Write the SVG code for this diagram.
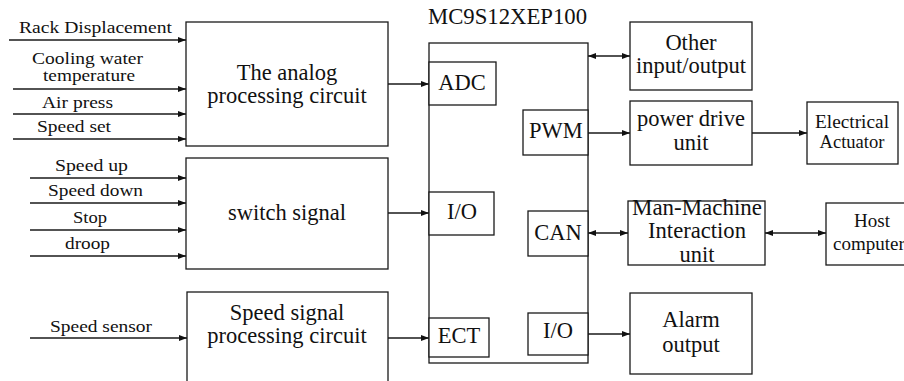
<svg xmlns="http://www.w3.org/2000/svg" width="904" height="381" viewBox="0 0 904 381">
<style>
  .box { fill: #ffffff; stroke: #1a1a1a; stroke-width: 1.3; }
  .t { fill: #111; }
  .big { font-size: 22.5px; text-anchor: middle; }
  .mid { font-size: 19px; text-anchor: middle; }
  .lab { font-size: 16px; }
  .ln { stroke: #1a1a1a; stroke-width: 1.3; fill: none; }
  .arr { marker-end: url(#ah); }
  .bi { marker-start: url(#ahs); marker-end: url(#ah); }
</style>
<defs>
  <marker id="ah" markerUnits="userSpaceOnUse" markerWidth="9" markerHeight="7" refX="8" refY="3" orient="auto">
    <path d="M0,0 L8,3 L0,6 z" fill="#111"/>
  </marker>
  <marker id="ahs" markerUnits="userSpaceOnUse" markerWidth="9" markerHeight="7" refX="0" refY="3" orient="auto">
    <path d="M8,0 L0,3 L8,6 z" fill="#111"/>
  </marker>
</defs>
<rect width="904" height="381" fill="#ffffff"/>
<g font-family="Liberation Serif, DejaVu Serif, serif">
<g id="connectors">
  <line class="ln arr" x1="9" y1="40" x2="186" y2="40"/>
  <line class="ln arr" x1="13" y1="89" x2="186" y2="89"/>
  <line class="ln arr" x1="13" y1="114" x2="186" y2="114"/>
  <line class="ln arr" x1="13" y1="139" x2="186" y2="139"/>
  <line class="ln arr" x1="30" y1="178" x2="186" y2="178"/>
  <line class="ln arr" x1="30" y1="203" x2="186" y2="203"/>
  <line class="ln arr" x1="30" y1="230" x2="186" y2="230"/>
  <line class="ln arr" x1="30" y1="256" x2="186" y2="256"/>
  <line class="ln arr" x1="30" y1="338" x2="187" y2="338"/>
  <line class="ln arr" x1="388" y1="84" x2="429" y2="84"/>
  <line class="ln arr" x1="388" y1="213" x2="429" y2="213"/>
  <line class="ln arr" x1="388" y1="338" x2="429" y2="338"/>
  <line class="ln bi" x1="588" y1="56" x2="630" y2="56"/>
  <line class="ln arr" x1="588" y1="133" x2="630" y2="133"/>
  <line class="ln arr" x1="752" y1="133" x2="807" y2="133"/>
  <line class="ln bi" x1="588" y1="233" x2="628" y2="233"/>
  <line class="ln bi" x1="765" y1="233" x2="826" y2="233"/>
  <line class="ln arr" x1="588" y1="334" x2="630" y2="334"/>
  <g class="t lab">
    <text x="19" y="33" textLength="153" lengthAdjust="spacingAndGlyphs">Rack Displacement</text>
    <text x="32" y="64" textLength="111" lengthAdjust="spacingAndGlyphs">Cooling water</text>
    <text x="43" y="81" textLength="92" lengthAdjust="spacingAndGlyphs">temperature</text>
    <text x="42" y="108" textLength="71" lengthAdjust="spacingAndGlyphs">Air press</text>
    <text x="37" y="132" textLength="74" lengthAdjust="spacingAndGlyphs">Speed set</text>
    <text x="55" y="171" textLength="73" lengthAdjust="spacingAndGlyphs">Speed up</text>
    <text x="48" y="196" textLength="95" lengthAdjust="spacingAndGlyphs">Speed down</text>
    <text x="73" y="223" textLength="34" lengthAdjust="spacingAndGlyphs">Stop</text>
    <text x="65" y="249" textLength="45" lengthAdjust="spacingAndGlyphs">droop</text>
    <text x="50" y="332" textLength="102" lengthAdjust="spacingAndGlyphs">Speed sensor</text>
  </g>
</g>

<g id="analog">
  <rect class="box" x="186" y="22" width="202" height="124"/>
  <text class="t big" x="287" y="80">The analog</text>
  <text class="t big" x="287" y="103">processing circuit</text>
</g>
<g id="switch">
  <rect class="box" x="186" y="158" width="202" height="111"/>
  <text class="t big" x="287" y="220">switch signal</text>
</g>
<g id="speedsig">
  <rect class="box" x="187" y="292" width="201" height="100"/>
  <text class="t big" x="287" y="320">Speed signal</text>
  <text class="t big" x="287" y="343">processing circuit</text>
</g>

<g id="mcu">
  <text class="t big" x="507.5" y="24" textLength="159" lengthAdjust="spacingAndGlyphs">MC9S12XEP100</text>
  <rect class="box" x="429" y="43" width="159" height="320"/>
</g>
<g id="adc">
  <rect class="box" x="429" y="62" width="67" height="43"/>
  <text class="t big" x="462" y="90">ADC</text>
</g>
<g id="pwm">
  <rect class="box" x="523" y="110" width="65" height="45"/>
  <text class="t big" x="556" y="138">PWM</text>
</g>
<g id="io-in">
  <rect class="box" x="429" y="192" width="65" height="43"/>
  <text class="t big" x="462" y="219">I/O</text>
</g>
<g id="can">
  <rect class="box" x="528" y="211" width="60" height="45"/>
  <text class="t big" x="558" y="240">CAN</text>
</g>
<g id="ect">
  <rect class="box" x="429" y="318" width="60" height="39"/>
  <text class="t big" x="459" y="343">ECT</text>
</g>
<g id="io-out">
  <rect class="box" x="528" y="313" width="60" height="42"/>
  <text class="t big" x="558" y="338">I/O</text>
</g>

<g id="other">
  <rect class="box" x="630" y="22" width="122" height="68"/>
  <text class="t big" x="691" y="50">Other</text>
  <text class="t big" x="691" y="73">input/output</text>
</g>
<g id="power">
  <rect class="box" x="630" y="101" width="122" height="64"/>
  <text class="t big" x="691" y="126">power drive</text>
  <text class="t big" x="691" y="150">unit</text>
</g>
<g id="actuator">
  <rect class="box" x="807" y="102" width="91" height="62"/>
  <text class="t mid" x="852" y="128" textLength="74" lengthAdjust="spacingAndGlyphs">Electrical</text>
  <text class="t mid" x="852" y="148" textLength="65" lengthAdjust="spacingAndGlyphs">Actuator</text>
</g>
<g id="mmi">
  <rect class="box" x="628" y="201" width="137" height="64"/>
  <text class="t big" x="697" y="215" textLength="130" lengthAdjust="spacingAndGlyphs">Man-Machine</text>
  <text class="t big" x="697" y="238" textLength="98" lengthAdjust="spacingAndGlyphs">Interaction</text>
  <text class="t big" x="697" y="262">unit</text>
</g>
<g id="host">
  <rect class="box" x="826" y="203" width="90" height="62"/>
  <text class="t mid" x="872" y="227">Host</text>
  <text class="t" x="833" y="250" font-size="19">computer</text>
</g>
<g id="alarm">
  <rect class="box" x="630" y="293" width="122" height="81"/>
  <text class="t big" x="691" y="327">Alarm</text>
  <text class="t big" x="691" y="352">output</text>
</g>
</g>
</svg>
